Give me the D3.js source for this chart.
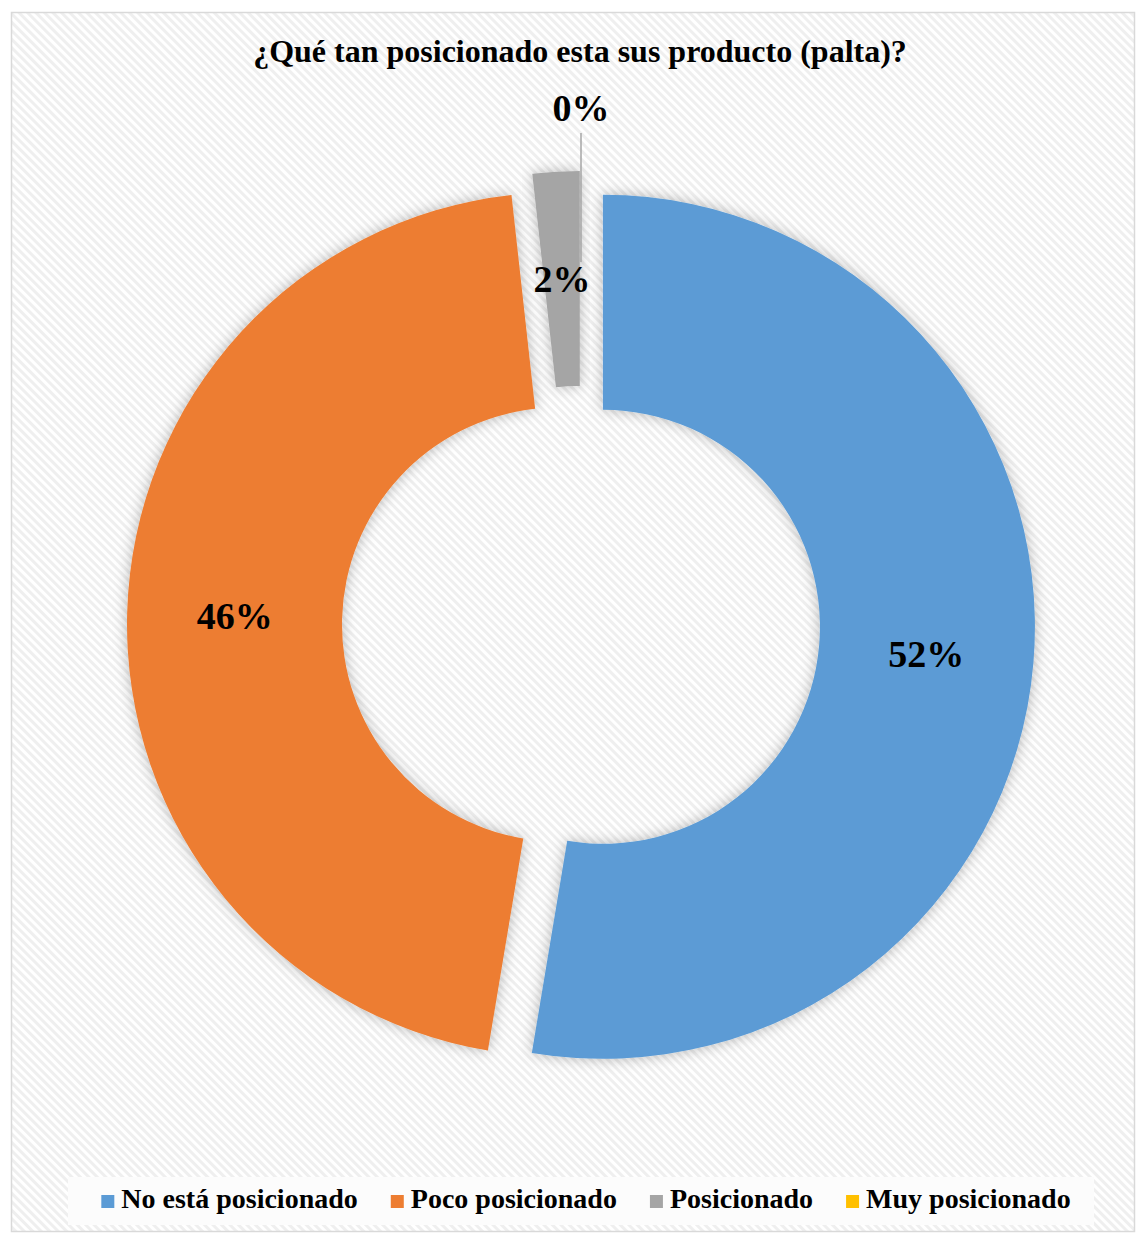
<!DOCTYPE html>
<meta charset="utf-8">
<style>
  body { margin: 0; background: #fff; }
  text { font-family: "Liberation Serif", "Times New Roman", serif; font-weight: bold; fill: #000; }
</style>
<script src="https://d3js.org/d3.v7.min.js"></script>
<svg id="chart" width="1139" height="1234"></svg>
<script>
// data (counts give 52.6 / 45.6 / 1.8 / 0 %)
var categories = ["No está posicionado", "Poco posicionado", "Posicionado", "Muy posicionado"];
var counts = [30, 26, 1, 0];
var pctLabels = ["52%", "46%", "2%", "0%"];
var colors = ["#5B9BD5", "#ED7D31", "#A5A5A5", "#FFC000"];
var title = "¿Qué tan posicionado esta sus producto (palta)?";

var svg = d3.select("#chart"),
    width = +svg.attr("width"),
    height = +svg.attr("height");

var cx = 581, cy = 625,
    outerR = 432, innerR = 217,
    explode = 22;

var defs = svg.append("defs");

var pat = defs.append("pattern")
    .attr("id", "hatch")
    .attr("patternUnits", "userSpaceOnUse")
    .attr("width", 6).attr("height", 6)
    .attr("patternTransform", "rotate(45)");
pat.append("rect").attr("width", 6).attr("height", 6).attr("fill", "#ffffff");
pat.append("rect").attr("width", 6).attr("height", 3).attr("fill", "#efefef");

var shadow = defs.append("filter")
    .attr("id", "shadow")
    .attr("x", "-20%").attr("y", "-20%")
    .attr("width", "140%").attr("height", "140%");
shadow.append("feDropShadow")
    .attr("dx", 0).attr("dy", 0)
    .attr("stdDeviation", 7)
    .attr("flood-color", "#000")
    .attr("flood-opacity", 0.28);

// chart area
svg.append("rect")
    .attr("x", 11.5).attr("y", 12.5)
    .attr("width", 1123).attr("height", 1219)
    .attr("fill", "url(#hatch)")
    .attr("stroke", "#d9d9d9")
    .attr("stroke-width", 1.5);

svg.append("text")
    .attr("x", 580).attr("y", 62)
    .attr("text-anchor", "middle")
    .style("font-size", "32px")
    .text(title);

var pie = d3.pie().sort(null).value(function(d) { return d; });
var arcs = pie(counts);

var arc = d3.arc().innerRadius(innerR).outerRadius(outerR);
var labelArc = d3.arc().innerRadius((innerR + outerR) / 2).outerRadius((innerR + outerR) / 2);

function mid(d) { return (d.startAngle + d.endAngle) / 2; }
function offset(d) {
  var a = mid(d);
  return [explode * Math.sin(a), -explode * Math.cos(a)];
}

var g = svg.append("g").attr("transform", "translate(" + cx + "," + cy + ")");

var slice = g.selectAll("g.slice")
    .data(arcs)
  .enter().append("g")
    .attr("class", "slice")
    .attr("transform", function(d) { var o = offset(d); return "translate(" + o[0] + "," + o[1] + ")"; });

slice.filter(function(d) { return d.value > 0; })
  .append("path")
    .attr("d", arc)
    .attr("fill", function(d) { return colors[d.index]; })
    .attr("filter", "url(#shadow)");

// zero slice: label pushed outside with a leader line
var zero = slice.filter(function(d) { return d.value === 0; });
zero.append("line")
    .attr("x1", function(d) { return 470 * Math.sin(mid(d)); })
    .attr("y1", function(d) { return -470 * Math.cos(mid(d)); })
    .attr("x2", function(d) { return 341 * Math.sin(mid(d)); })
    .attr("y2", function(d) { return -341 * Math.cos(mid(d)); })
    .attr("stroke", "#a6a6a6")
    .attr("stroke-width", 1.5);

slice.append("text")
    .attr("transform", function(d) {
      if (d.value === 0) {
        var a = mid(d);
        return "translate(" + (495 * Math.sin(a)) + "," + (-495 * Math.cos(a)) + ")";
      }
      return "translate(" + labelArc.centroid(d) + ")";
    })
    .attr("text-anchor", "middle")
    .attr("dy", "0.35em")
    .style("font-size", "38px")
    .text(function(d) { return pctLabels[d.index]; });

// legend
svg.append("rect")
    .attr("x", 68).attr("y", 1177)
    .attr("width", 1026).attr("height", 48)
    .attr("fill", "#fcfcfc");

var lg = svg.append("g").attr("class", "legend");
var items = lg.selectAll("g")
    .data(categories)
  .enter().append("g");

items.append("rect")
    .attr("width", 13).attr("height", 13)
    .attr("y", -13)
    .attr("fill", function(d, i) { return colors[i]; });

items.append("text")
    .attr("x", 20)
    .attr("y", 0)
    .style("font-size", "28px")
    .text(function(d) { return d; });

var x = 0, gap = 33;
items.each(function() {
  var w = 20 + d3.select(this).select("text").node().getComputedTextLength();
  d3.select(this).attr("transform", "translate(" + x + ",0)");
  x += w + gap;
});
var total = x - gap;
lg.attr("transform", "translate(" + (586 - total / 2) + ",1208)");
</script>
